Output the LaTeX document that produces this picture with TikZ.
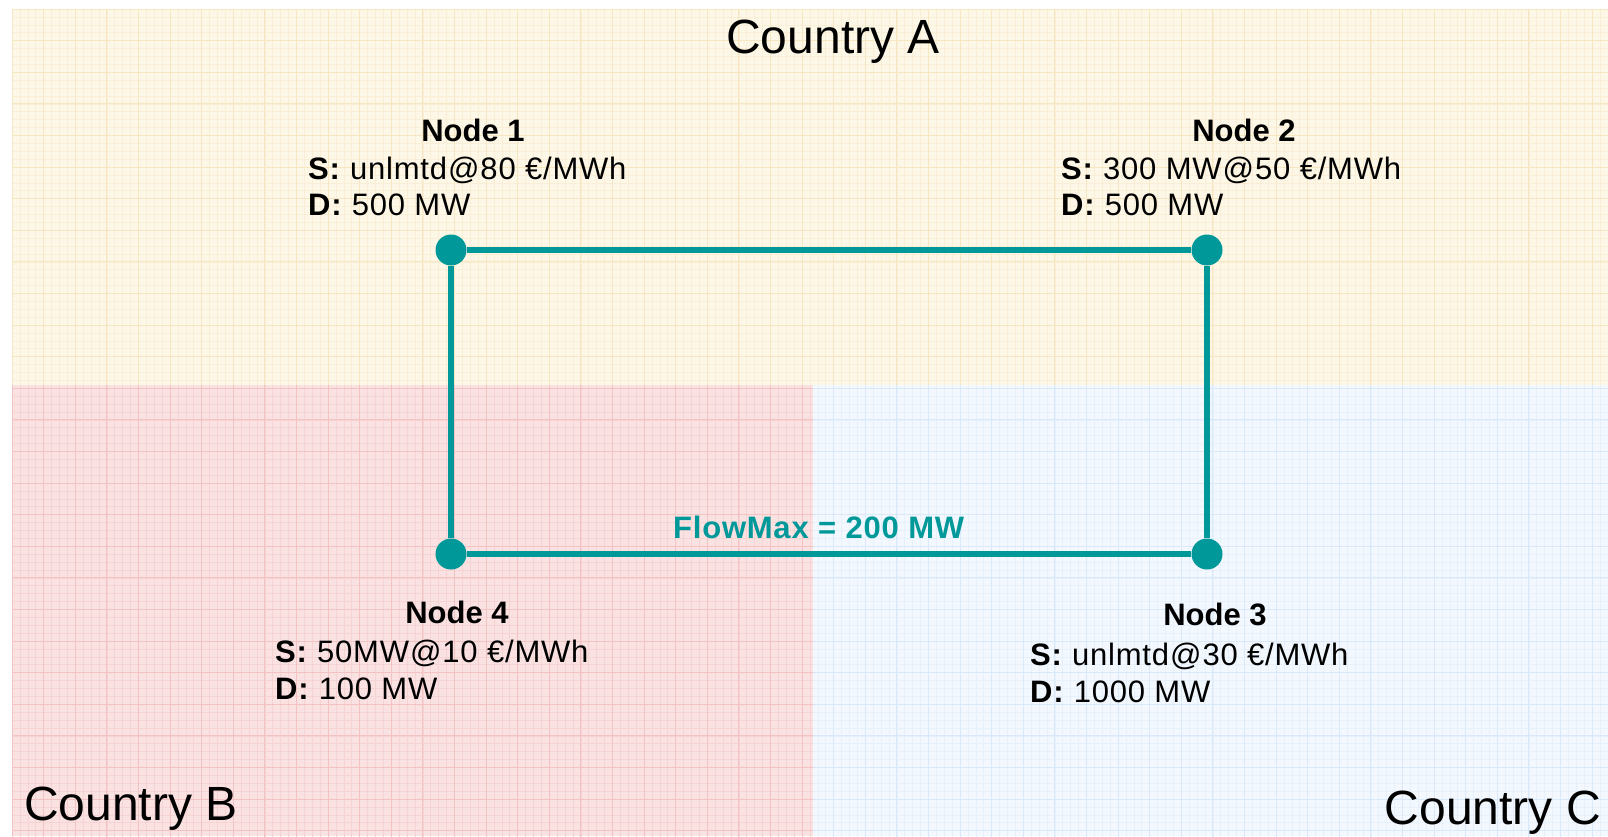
\documentclass[tikz,border=0pt]{standalone}
\usepackage{fontspec}
\setmainfont{Liberation Sans}
\newfontfamily\spacedfont[LetterSpace=2.5]{Liberation Sans}
\definecolor{teal1}{RGB}{0,152,152}
\definecolor{fillA}{RGB}{253,247,231}
\definecolor{gridA}{RGB}{247,230,194}
\definecolor{fillB}{RGB}{251,226,226}
\definecolor{gridB}{RGB}{243,194,194}
\definecolor{fillC}{RGB}{242,248,254}
\definecolor{gridC}{RGB}{218,233,249}
\tikzset{
  dot/.style={circle, fill=teal1, inner sep=0pt, minimum size=31pt},
  link/.style={draw=teal1, line width=5.5pt},
  title/.style={anchor=base, inner sep=0pt, font=\fontsize{31}{36}\selectfont\bfseries},
  info/.style={anchor=base west, inner sep=0pt, font=\spacedfont\fontsize{31}{36}\selectfont},
  country/.style={inner sep=0pt, font=\fontsize{48}{56}\selectfont},
  minorgrid/.style={line width=0.5pt},
  majorgrid/.style={line width=1pt}
}
\begin{document}
\begin{tikzpicture}[x=1pt,y=-1pt]
\useasboundingbox (0,0) rectangle (1608,836);
% backgrounds
\fill[fillA] (12,9) rectangle (1608,385);
\fill[fillB] (12,385) rectangle (813,836);
\fill[fillC] (813,385) rectangle (1608,836);
% grids
\begin{scope}
\clip (12,9) rectangle (1608,385);
\draw[gridA!45!fillA, minorgrid, shift={(12,9)}] (0,0) grid[step=7.9pt] (1600,380);
\draw[gridA, majorgrid, shift={(12,9)}] (0,0) grid[step=31.6pt] (1600,380);
\end{scope}
\begin{scope}
\clip (12,385) rectangle (813,836);
\draw[gridB!45!fillB, minorgrid, shift={(12,9)}] (0,0) grid[step=7.9pt] (805,830);
\draw[gridB, majorgrid, shift={(12,9)}] (0,0) grid[step=31.6pt] (805,830);
\end{scope}
\begin{scope}
\clip (813,385) rectangle (1608,836);
\draw[gridC!45!fillC, minorgrid, shift={(12,9)}] (790,370) grid[step=7.9pt] (1600,830);
\draw[gridC, majorgrid, shift={(12,9)}] (790,370) grid[step=31.6pt] (1600,830);
\end{scope}
% country labels
\node[country, anchor=base] (cA) at (833,53) {Country A};
\node[country, anchor=base west] (cB) at (24,820) {Country B};
\node[country, anchor=base east] (cC) at (1601,824) {Country C};
% network nodes
\node[dot] (n1) at (451,250) {};
\node[dot] (n2) at (1207,250) {};
\node[dot] (n3) at (1207,554) {};
\node[dot] (n4) at (451,554) {};
\draw[link] (n1) -- (n2);
\draw[link] (n2) -- (n3);
\draw[link] (n3) -- (n4);
\draw[link] (n4) -- (n1);
% flow label
\node[anchor=base west, inner sep=0pt, text=teal1, font=\spacedfont\fontsize{31}{36}\selectfont\bfseries] (flow) at (673,538) {FlowMax = 200 MW};
% node 1 text
\node[title] (t1) at (473,141) {Node 1};
\node[info] (s1) at (308,179) {\textbf{S:} unlmtd\kern1pt@\kern1pt80 €/MWh};
\node[info] (d1) at (308,215) {\textbf{D:} 500 MW};
% node 2 text
\node[title] (t2) at (1244,141) {Node 2};
\node[info] (s2) at (1061,179) {\textbf{S:} 300 MW\kern1pt@\kern1pt50 €/MWh};
\node[info] (d2) at (1061,215) {\textbf{D:} 500 MW};
% node 3 text
\node[title] (t3) at (1215,625) {Node 3};
\node[info] (s3) at (1030,665) {\textbf{S:} unlmtd\kern1pt@\kern1pt30 €/MWh};
\node[info] (d3) at (1030,702) {\textbf{D:} 1000 MW};
% node 4 text
\node[title] (t4) at (457,623) {Node 4};
\node[info] (s4) at (275,662) {\textbf{S:} 50MW\kern1pt@\kern1pt10 €/MWh};
\node[info] (d4) at (275,699) {\textbf{D:} 100 MW};
\end{tikzpicture}
\end{document}
